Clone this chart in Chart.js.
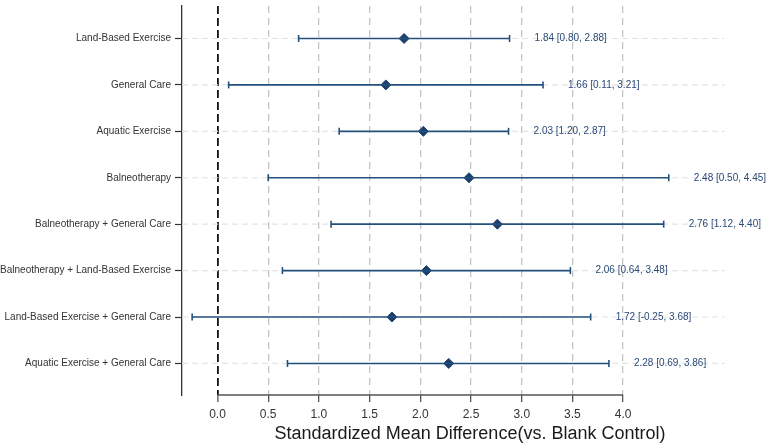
<!DOCTYPE html>
<html>
<head>
<meta charset="utf-8">
<script src="https://cdn.jsdelivr.net/npm/chart.js@4"></script>
<style>
  body { margin: 0; background: #fff; }
</style>
</head>
<body>
<canvas id="forest" width="767" height="445"></canvas>
<script>
const categories = [
  'Land-Based Exercise',
  'General Care',
  'Aquatic Exercise',
  'Balneotherapy',
  'Balneotherapy + General Care',
  'Balneotherapy + Land-Based Exercise',
  'Land-Based Exercise + General Care',
  'Aquatic Exercise + General Care'
];
const smd = [1.84, 1.66, 2.03, 2.48, 2.76, 2.06, 1.72, 2.28];
const ciLow = [0.80, 0.11, 1.20, 0.50, 1.12, 0.64, -0.25, 0.69];
const ciHigh = [2.88, 3.21, 2.87, 4.45, 4.40, 3.48, 3.68, 3.86];
const xTicks = [0, 0.5, 1.0, 1.5, 2.0, 2.5, 3.0, 3.5, 4.0];

const lineColor = '#24507e';
const markerColor = '#1c3f6a';
const font = "'Liberation Sans', Arial, sans-serif";

const ciSets = categories.map((c, i) => ({
  type: 'scatter',
  showLine: true,
  data: [{x: ciLow[i], y: i}, {x: ciHigh[i], y: i}],
  borderColor: lineColor,
  borderWidth: 1.6,
  pointStyle: 'line',
  rotation: 90,
  pointRadius: 3.5,
  pointHoverRadius: 3.5,
  pointBorderColor: lineColor,
  pointBorderWidth: 1.6
}));

const pointSet = {
  type: 'scatter',
  data: smd.map((v, i) => ({x: v, y: i})),
  pointStyle: 'rectRot',
  pointRadius: 5,
  pointHoverRadius: 5,
  backgroundColor: markerColor,
  borderColor: markerColor,
  borderWidth: 1
};

// row guides, trimmed bottom spine and value labels
const extras = {
  id: 'forestExtras',
  beforeDatasetsDraw(chart) {
    const {ctx, chartArea, scales: {x, y}} = chart;
    ctx.save();
    ctx.strokeStyle = '#e4e4e4';
    ctx.lineWidth = 1.2;
    ctx.setLineDash([6, 4]);
    categories.forEach((c, i) => {
      const py = y.getPixelForValue(i);
      ctx.beginPath();
      ctx.moveTo(chartArea.left, py);
      ctx.lineTo(x.getPixelForValue(5.0), py);
      ctx.stroke();
    });
    ctx.restore();
  },
  afterDatasetsDraw(chart) {
    const {ctx, chartArea, scales: {x, y}} = chart;
    ctx.save();
    ctx.fillStyle = '#2b4a78';
    ctx.font = '10px ' + font;
    ctx.textBaseline = 'middle';
    ctx.textAlign = 'left';
    categories.forEach((c, i) => {
      const txt = smd[i].toFixed(2) + ' [' + ciLow[i].toFixed(2) + ', ' + ciHigh[i].toFixed(2) + ']';
      ctx.fillText(txt, x.getPixelForValue(ciHigh[i]) + 25, y.getPixelForValue(i));
    });
    ctx.strokeStyle = '#555';
    ctx.lineWidth = 1.3;
    ctx.beginPath();
    ctx.moveTo(x.getPixelForValue(xTicks[0]), chartArea.bottom);
    ctx.lineTo(x.getPixelForValue(xTicks[xTicks.length - 1]), chartArea.bottom);
    ctx.stroke();
    ctx.restore();
  }
};

new Chart(document.getElementById('forest'), {
  type: 'scatter',
  data: { datasets: [...ciSets, pointSet] },
  options: {
    responsive: false,
    animation: false,
    layout: { padding: { top: 2, left: 0, right: 9, bottom: 0 } },
    plugins: {
      legend: { display: false },
      tooltip: { enabled: false }
    },
    scales: {
      x: {
        type: 'linear',
        min: -0.35,
        max: 5.33,
        afterBuildTicks: (s) => { s.ticks = xTicks.map(v => ({value: v})); },
        afterFit: (s) => { s.height = 50; s.paddingLeft = 0; s.paddingRight = 0; },
        ticks: {
          font: { size: 12, family: font },
          color: '#333',
          padding: 5,
          maxRotation: 0,
          callback: (v) => v.toFixed(1)
        },
        grid: {
          color: (c) => c.tick && c.tick.value === 0 ? '#111' : '#c6c6c6',
          lineWidth: (c) => c.tick && c.tick.value === 0 ? 1.8 : 1.3,
          tickColor: '#555',
          tickWidth: 1.3,
          tickLength: 7
        },
        border: {
          display: false,
          dash: (c) => c.tick && c.tick.value === 0 ? [8, 4] : [7, 5]
        },
        title: {
          display: true,
          text: 'Standardized Mean Difference(vs. Blank Control)',
          font: { size: 18, family: font },
          color: '#1a1a1a',
          padding: { top: -1.5, bottom: 0 }
        }
      },
      y: {
        type: 'linear',
        reverse: true,
        min: -0.7,
        max: 7.68,
        afterBuildTicks: (s) => { s.ticks = categories.map((c, i) => ({value: i})); },
        afterFit: (s) => { s.width = 182; s.paddingTop = 0; s.paddingBottom = 0; },
        ticks: {
          font: { size: 10, family: font },
          color: '#333',
          padding: 4,
          callback: (v) => categories[v]
        },
        grid: {
          drawOnChartArea: false,
          tickColor: '#333',
          tickWidth: 1.2,
          tickLength: 7
        },
        border: { color: '#333', width: 1.3 }
      }
    }
  },
  plugins: [extras]
});
</script>
</body>
</html>
